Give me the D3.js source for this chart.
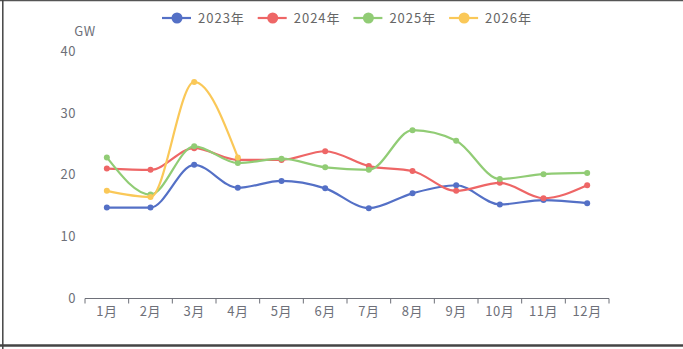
<!DOCTYPE html>
<html>
<head>
<meta charset="utf-8">
<script src="https://cdn.jsdelivr.net/npm/d3@7"></script>
<style>
  html, body { margin: 0; padding: 0; background: #fff; }
  svg { display: block; }
  text { font-family: "Noto Sans CJK SC", "Noto Sans", sans-serif; }
</style>
</head>
<body>
<svg id="chart" width="683" height="349"></svg>
<script>
// Monthly installed capacity (GW)
const months = ["1月","2月","3月","4月","5月","6月","7月","8月","9月","10月","11月","12月"];
const seriesNames = ["2023年","2024年","2025年","2026年"];
const seriesColors = ["#5470c6","#ee6666","#91cc75","#fac858"];
const values2023 = [14.7, 14.7, 21.6, 17.9, 19.0, 17.8, 14.6, 17.0, 18.3, 15.2, 15.9, 15.4];
const values2024 = [21.0, 20.8, 24.3, 22.4, 22.4, 23.8, 21.4, 20.6, 17.4, 18.7, 16.2, 18.3];
const values2025 = [22.8, 16.8, 24.6, 21.9, 22.6, 21.2, 20.8, 27.2, 25.5, 19.3, 20.1, 20.3];
const values2026 = [17.4, 16.4, 35.0, 22.8];
const yTicks = [0, 10, 20, 30, 40];
const unitLabel = "GW";

const allSeries = [values2023, values2024, values2025, values2026];

const svg = d3.select("#chart");
const W = 683, H = 349;

// frame
svg.append("line").attr("x1", 0).attr("x2", W).attr("y1", 0.5).attr("y2", 0.5)
  .attr("stroke", "#555").attr("stroke-width", 1.5);
svg.append("line").attr("x1", 2.8).attr("x2", 2.8).attr("y1", 0).attr("y2", H)
  .attr("stroke", "#444").attr("stroke-width", 1.5);
svg.append("line").attr("x1", 0).attr("x2", W).attr("y1", 345.5).attr("y2", 345.5)
  .attr("stroke", "#444").attr("stroke-width", 2.5);

const plotLeft = 85, plotRight = 609, plotTop = 51, plotBottom = 298.5;
const labelColor = "#6e7079";

const x = d3.scaleBand().domain(months).range([plotLeft, plotRight]);
const y = d3.scaleLinear().domain([0, 40]).range([plotBottom, plotTop]);

// y axis labels (no axis line)
const yAxis = d3.axisLeft(y).tickValues(yTicks).tickSize(0).tickPadding(9);
const gy = svg.append("g").attr("transform", `translate(${plotLeft},0)`).call(yAxis);
gy.select(".domain").remove();
gy.selectAll("text").attr("fill", labelColor).attr("font-size", 13).attr("letter-spacing", 0.5);

svg.append("text").attr("x", plotLeft).attr("y", 36).attr("text-anchor", "middle")
  .attr("fill", labelColor).attr("font-size", 13).attr("letter-spacing", 0.5).text(unitLabel);

// x axis with ticks at band boundaries
const gx = svg.append("g").attr("transform", `translate(0,${plotBottom})`)
  .call(d3.axisBottom(x).tickSize(0).tickPadding(8));
gx.select(".domain").attr("stroke", labelColor).attr("d", `M${plotLeft},0H${plotRight}`);
gx.selectAll("text").attr("fill", labelColor).attr("font-size", 13).attr("letter-spacing", 0.6);
const bounds = months.map(m => x(m)).concat([plotRight]);
gx.selectAll("line.bound").data(bounds).enter().append("line")
  .attr("class", "bound").attr("x1", d => d).attr("x2", d => d)
  .attr("y1", 0).attr("y2", 5).attr("stroke", labelColor);

// lines
const line = d3.line()
  .x((d, i) => x(months[i]) + x.bandwidth() / 2)
  .y(d => y(d))
  .curve(d3.curveMonotoneX);

allSeries.forEach((vals, s) => {
  const g = svg.append("g");
  g.append("path").datum(vals).attr("d", line)
    .attr("fill", "none").attr("stroke", seriesColors[s]).attr("stroke-width", 2.2);
  g.selectAll("circle").data(vals).enter().append("circle")
    .attr("cx", (d, i) => x(months[i]) + x.bandwidth() / 2)
    .attr("cy", d => y(d))
    .attr("r", 3)
    .attr("fill", seriesColors[s]);
});

// legend
const legendStart = 162, legendStep = 95.7;
seriesNames.forEach((name, s) => {
  const lx = legendStart + s * legendStep;
  const g = svg.append("g").attr("transform", `translate(${lx},18)`);
  g.append("line").attr("x1", 0).attr("x2", 29).attr("y1", 0).attr("y2", 0)
    .attr("stroke", seriesColors[s]).attr("stroke-width", 2.2);
  g.append("circle").attr("cx", 15).attr("cy", 0).attr("r", 5.5).attr("fill", seriesColors[s]);
  g.append("text").attr("x", 36).attr("y", 4.8).attr("fill", "#666")
    .attr("font-size", 13).attr("letter-spacing", 1).text(name);
});
</script>
</body>
</html>
